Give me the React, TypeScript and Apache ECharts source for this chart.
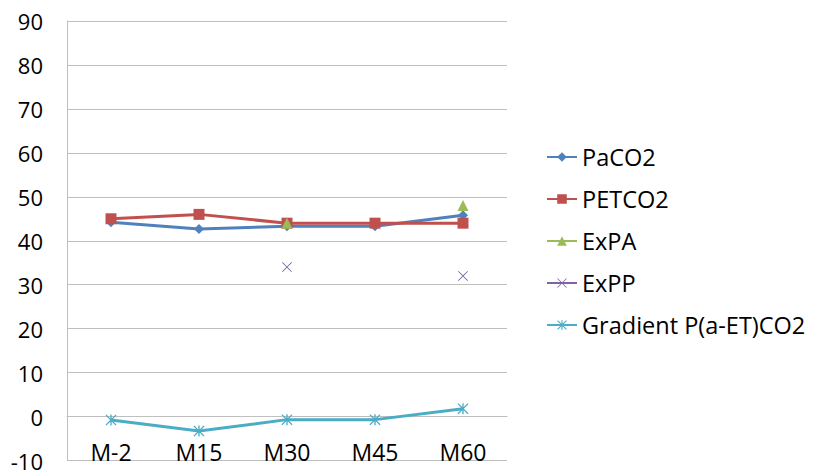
import React, { useEffect, useRef } from "react";
import * as echarts from "echarts";

const categories = ["M-2", "M15", "M30", "M45", "M60"];
const paco2 = [44.2, 42.7, 43.3, 43.3, 45.8];
const petco2 = [45, 46, 44, 44, 44];
const expa = [null, null, 44, null, 48];
const expp = [null, null, 34, null, 32];
const gradient = [-0.8, -3.3, -0.7, -0.7, 1.8];

const X_PATH =
  "path://M0,0.6 L0.6,0 L5,4.4 L9.4,0 L10,0.6 L5.6,5 L10,9.4 L9.4,10 L5,5.6 L0.6,10 L0,9.4 L4.4,5 Z";
const STAR_PATH =
  "path://M0,0.8 L0.8,0 L5,4.2 L9.2,0 L10,0.8 L5.8,5 L10,9.2 L9.2,10 L5,5.8 L0.8,10 L0,9.2 L4.2,5 Z M4.4,0 L5.6,0 L5.6,10 L4.4,10 Z";

export default function App() {
  const ref = useRef<HTMLDivElement>(null);
  useEffect(() => {
    if (!ref.current) return;
    const chart = echarts.init(ref.current, null, { renderer: "svg" });
    const font = "'Open Sans', 'Noto Sans', sans-serif";
    chart.setOption({
      animation: false,
      textStyle: { fontFamily: font },
      grid: { left: 67, right: 310, top: 21, bottom: 13.5, containLabel: false },
      legend: {
        orient: "vertical",
        left: 546,
        top: 145,
        padding: 0,
        itemWidth: 30,
        itemHeight: 12,
        itemGap: 18,
        textStyle: { fontSize: 23.5, color: "#000", fontFamily: font, lineHeight: 22 },
        data: ["PaCO2", "PETCO2", "ExPA", "ExPP", "Gradient P(a-ET)CO2"],
      },
      xAxis: {
        type: "category",
        data: categories,
        boundaryGap: true,
        axisLine: { show: true, lineStyle: { color: "#bfbfbf", width: 1 } },
        axisTick: { show: false },
        axisLabel: {
          margin: 3,
          verticalAlign: "bottom",
          fontSize: 23,
          color: "#000",
          fontFamily: font,
        },
      },
      yAxis: {
        type: "value",
        min: -10,
        max: 90,
        interval: 10,
        axisLine: { show: true, lineStyle: { color: "#bfbfbf", width: 1 } },
        axisTick: { show: false },
        splitLine: { show: true, lineStyle: { color: "#bfbfbf", width: 1 } },
        axisLabel: { margin: 24, fontSize: 22, color: "#000", fontFamily: font },
      },
      series: [
        {
          name: "PaCO2",
          type: "line",
          data: paco2,
          symbol: "diamond",
          symbolSize: 10,
          color: "#4F81BD",
          lineStyle: { width: 3, color: "#4F81BD" },
          itemStyle: { color: "#4F81BD" },
        },
        {
          name: "PETCO2",
          type: "line",
          data: petco2,
          symbol: "rect",
          symbolSize: 11,
          color: "#C0504D",
          lineStyle: { width: 3, color: "#C0504D" },
          itemStyle: { color: "#C0504D" },
        },
        {
          name: "ExPA",
          type: "line",
          data: expa,
          connectNulls: false,
          symbol: "triangle",
          symbolSize: 11,
          color: "#9BBB59",
          lineStyle: { width: 3, color: "#9BBB59" },
          itemStyle: { color: "#9BBB59" },
        },
        {
          name: "ExPP",
          type: "line",
          data: expp,
          connectNulls: false,
          symbol: X_PATH,
          symbolSize: 10,
          color: "#8064A2",
          lineStyle: { width: 3, color: "#8064A2" },
          itemStyle: { color: "#8064A2" },
        },
        {
          name: "Gradient P(a-ET)CO2",
          type: "line",
          data: gradient,
          symbol: STAR_PATH,
          symbolSize: 11,
          color: "#4BACC6",
          lineStyle: { width: 3, color: "#4BACC6" },
          itemStyle: { color: "#4BACC6" },
        },
      ],
    });
    return () => chart.dispose();
  }, []);
  return <div ref={ref} style={{ width: 817, height: 474, position: "absolute", left: 0, top: 0, background: "#fff" }} />;
}
